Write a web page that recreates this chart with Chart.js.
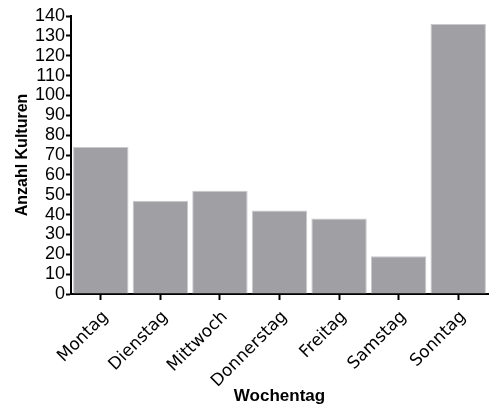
<!DOCTYPE html>
<html>
<head>
<meta charset="utf-8">
<script src="https://cdn.jsdelivr.net/npm/chart.js@4"></script>
<style>
  html, body { margin: 0; padding: 0; background: #fff; }
  #wrap { width: 497px; height: 408px; }
</style>
</head>
<body>
<div id="wrap"><canvas id="chart" width="497" height="408"></canvas></div>
<script>
const days = ['Montag', 'Dienstag', 'Mittwoch', 'Donnerstag', 'Freitag', 'Samstag', 'Sonntag'];
const cultures = [74, 47, 52, 42, 38, 19, 136];
const yTitle = 'Anzahl Kulturen';
const xTitle = 'Wochentag';

const ctx = document.getElementById('chart').getContext('2d');
Chart.defaults.font.family = '"Liberation Sans", Arial, sans-serif';
Chart.defaults.color = '#000';

const myChart = new Chart(ctx, {
  type: 'bar',
  data: {
    labels: days,
    datasets: [{
      data: cultures,
      backgroundColor: '#a09fa4',
      borderColor: '#c9c8cc',
      borderWidth: 1,
      barPercentage: 0.93,
      categoryPercentage: 1.0
    }]
  },
  options: {
    responsive: false,
    animation: false,
    layout: { padding: { left: 13, top: 16, right: 9, bottom: 1 } },
    plugins: {
      legend: { display: false },
      tooltip: { enabled: false }
    },
    scales: {
      x: {
        afterFit: (scale) => { scale.height = 113; },
        border: { display: true, color: '#000', width: 2 },
        grid: { offset: false, drawOnChartArea: false, drawTicks: true, tickLength: 6, tickColor: '#000', tickWidth: 2 },
        ticks: { minRotation: 45, maxRotation: 45, labelOffset: 5, font: { family: '"DejaVu Sans", sans-serif', size: 17 }, padding: 7 },
        title: { display: true, text: xTitle, font: { size: 17, weight: 'bold' }, padding: { top: 0, bottom: 0 } }
      },
      y: {
        min: 0,
        max: 140,
        afterFit: (scale) => { scale.width = 58; },
        border: { display: true, color: '#000', width: 2 },
        grid: { drawOnChartArea: false, drawTicks: true, tickLength: 5, tickColor: '#000', tickWidth: 2 },
        ticks: { stepSize: 10, autoSkip: false, font: { size: 18 }, padding: 1 },
        title: { display: true, text: yTitle, font: { size: 16, weight: 'bold' }, padding: { top: 0, bottom: 2 } }
      }
    }
  }
});
</script>
</body>
</html>
